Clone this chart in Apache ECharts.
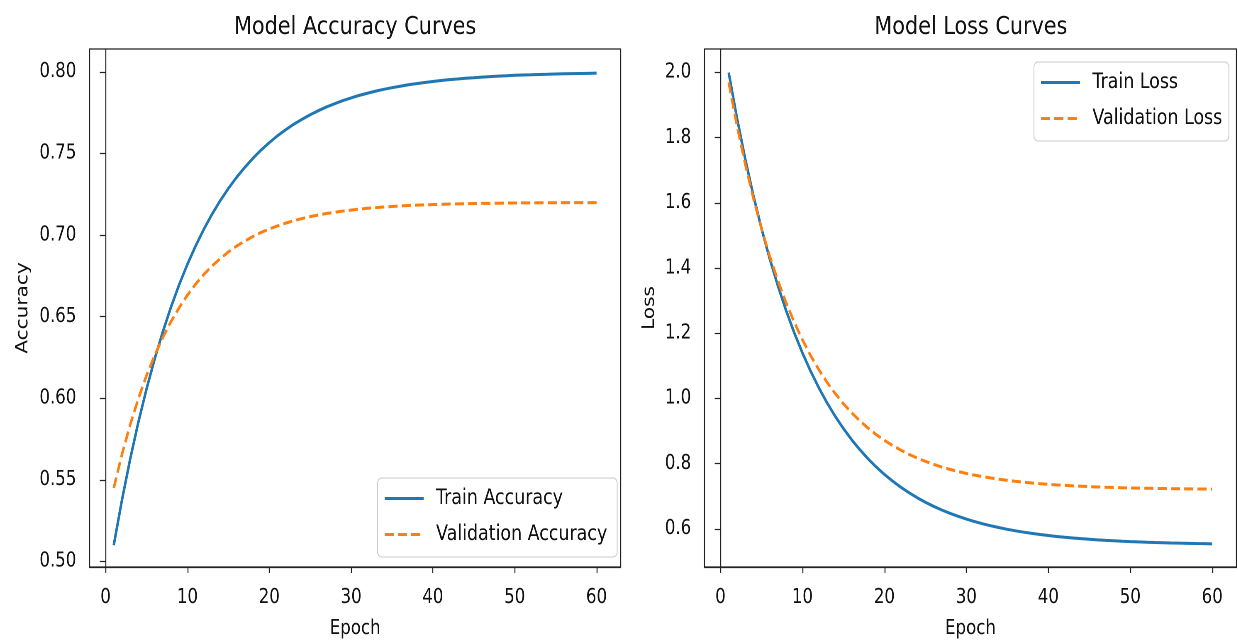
<!DOCTYPE html>
<html>
<head>
<meta charset="utf-8">
<script src="https://cdn.jsdelivr.net/npm/echarts@6/dist/echarts.min.js"></script>
<style>
  html, body { margin: 0; padding: 0; background: #fff; overflow: hidden; }
  /* the reference is squashed horizontally, so draw wider and squeeze */
  #chart { width: 1492px; height: 640px; transform: scaleX(0.8298); transform-origin: 0 0; }
</style>
</head>
<body>
<div id="chart"></div>
<script>
const epochs = [1, 2, 3, 4, 5, 6, 7, 8, 9, 10, 11, 12, 13, 14, 15, 16, 17, 18, 19, 20,
  21, 22, 23, 24, 25, 26, 27, 28, 29, 30, 31, 32, 33, 34, 35, 36, 37, 38, 39, 40,
  41, 42, 43, 44, 45, 46, 47, 48, 49, 50, 51, 52, 53, 54, 55, 56, 57, 58, 59, 60]

const trainAcc = [0.5100, 0.5376, 0.5626, 0.5852, 0.6056, 0.6241, 0.6408, 0.6560, 0.6697, 0.6821,
  0.6933, 0.7035, 0.7127, 0.7210, 0.7285, 0.7353, 0.7414, 0.7470, 0.7521, 0.7566,
  0.7608, 0.7645, 0.7679, 0.7709, 0.7737, 0.7762, 0.7785, 0.7805, 0.7824, 0.7840,
  0.7856, 0.7869, 0.7882, 0.7893, 0.7903, 0.7912, 0.7921, 0.7928, 0.7935, 0.7941,
  0.7947, 0.7952, 0.7956, 0.7961, 0.7964, 0.7968, 0.7971, 0.7974, 0.7976, 0.7979,
  0.7981, 0.7982, 0.7984, 0.7985, 0.7987, 0.7988, 0.7989, 0.7990, 0.7991, 0.7992]

const valAcc = [0.5450, 0.5656, 0.5837, 0.5997, 0.6139, 0.6263, 0.6373, 0.6470, 0.6556, 0.6632,
  0.6699, 0.6758, 0.6810, 0.6855, 0.6896, 0.6932, 0.6963, 0.6991, 0.7016, 0.7037,
  0.7056, 0.7073, 0.7088, 0.7101, 0.7113, 0.7123, 0.7132, 0.7140, 0.7147, 0.7153,
  0.7159, 0.7164, 0.7168, 0.7172, 0.7175, 0.7178, 0.7181, 0.7183, 0.7185, 0.7187,
  0.7188, 0.7190, 0.7191, 0.7192, 0.7193, 0.7194, 0.7194, 0.7195, 0.7196, 0.7196,
  0.7197, 0.7197, 0.7198, 0.7198, 0.7198, 0.7199, 0.7199, 0.7199, 0.7199, 0.7199]

const trainLoss = [2.0000, 1.8620, 1.7371, 1.6242, 1.5219, 1.4294, 1.3458, 1.2701, 1.2015, 1.1396,
  1.0834, 1.0327, 0.9867, 0.9451, 0.9076, 0.8735, 0.8428, 0.8149, 0.7897, 0.7669,
  0.7462, 0.7276, 0.7107, 0.6954, 0.6815, 0.6690, 0.6577, 0.6474, 0.6382, 0.6298,
  0.6222, 0.6153, 0.6092, 0.6035, 0.5984, 0.5938, 0.5896, 0.5858, 0.5825, 0.5793,
  0.5765, 0.5741, 0.5718, 0.5697, 0.5678, 0.5661, 0.5646, 0.5632, 0.5619, 0.5607,
  0.5597, 0.5588, 0.5580, 0.5573, 0.5565, 0.5559, 0.5554, 0.5548, 0.5544, 0.5539]

const valLoss = [1.9700, 1.8385, 1.7209, 1.6156, 1.5215, 1.4373, 1.3618, 1.2943, 1.2339, 1.1799,
  1.1315, 1.0883, 1.0495, 1.0149, 0.9839, 0.9561, 0.9313, 0.9090, 0.8891, 0.8714,
  0.8555, 0.8413, 0.8285, 0.8170, 0.8069, 0.7978, 0.7895, 0.7823, 0.7758, 0.7699,
  0.7646, 0.7599, 0.7558, 0.7520, 0.7486, 0.7456, 0.7429, 0.7405, 0.7384, 0.7364,
  0.7346, 0.7331, 0.7318, 0.7305, 0.7294, 0.7284, 0.7275, 0.7268, 0.7260, 0.7254,
  0.7249, 0.7244, 0.7239, 0.7235, 0.7231, 0.7228, 0.7225, 0.7223, 0.7220, 0.7218]

const epochTicks = [0, 10, 20, 30, 40, 50, 60]
const accTicks = [0.50, 0.55, 0.60, 0.65, 0.70, 0.75, 0.80]
const lossTicks = [0.6, 0.8, 1.0, 1.2, 1.4, 1.6, 1.8, 2.0]

const FONT = 'DejaVu Sans'
const INK = '#111'
const BLUE = '#1f77b4'
const ORANGE = '#ff7f0e'

const pairs = ys => epochs.map((e, i) => [e, ys[i]])

function xAxis(gi) {
  return {
    type: 'value', gridIndex: gi, min: -1.95, max: 62.95,
    axisLine: { show: true, lineStyle: { color: '#222', width: 1.2 } },
    axisTick: { show: true, length: 6, customValues: epochTicks, lineStyle: { color: '#222', width: 1.2 } },
    axisLabel: { customValues: epochTicks, color: INK, fontSize: 20, fontFamily: FONT, margin: 21 },
    splitLine: { show: false },
    name: 'Epoch', nameLocation: 'middle', nameGap: 52,
    nameTextStyle: { color: INK, fontSize: 20, fontFamily: FONT }
  }
}

function yAxis(gi, min, max, ticks, digits, name, gap) {
  return {
    type: 'value', gridIndex: gi, min: min, max: max,
    axisLine: { show: true, lineStyle: { color: '#222', width: 1.2 } },
    axisTick: { show: true, length: 7, customValues: ticks, lineStyle: { color: '#222', width: 1.2 } },
    axisLabel: { customValues: ticks, color: INK, fontSize: 20, fontFamily: FONT, margin: 16,
      formatter: v => v.toFixed(digits) },
    splitLine: { show: false },
    name: name, nameLocation: 'middle', nameGap: gap,
    nameTextStyle: { color: INK, fontSize: 20, fontFamily: FONT }
  }
}

function legend(names, left, top, padRight) {
  return {
    data: names, orient: 'vertical', left: left, top: top,
    itemWidth: 47, itemHeight: 14, itemGap: 15,
    padding: [10, padRight, 12, 7],
    backgroundColor: 'rgba(255,255,255,0.8)', borderColor: '#cccccc', borderWidth: 1, borderRadius: 5,
    selectedMode: false,
    itemStyle: { opacity: 0 },
    lineStyle: { width: 3 },
    textStyle: { color: INK, fontSize: 21, fontFamily: FONT, padding: [0, 0, 0, 10] }
  }
}

function line(name, ys, gi, color, dashed) {
  return {
    name: name, type: 'line', xAxisIndex: gi, yAxisIndex: gi,
    data: pairs(ys), symbol: 'none', showSymbol: false, smooth: false,
    lineStyle: { color: color, width: 3, type: dashed ? [11, 5] : 'solid' },
    itemStyle: { color: color }
  }
}

const chart = echarts.init(document.getElementById('chart'), null, { devicePixelRatio: 2 })
chart.setOption({
  animation: false,
  backgroundColor: '#fff',
  title: [
    { text: 'Model Accuracy Curves', left: 428, top: 15, textAlign: 'center', padding: 0,
      textStyle: { color: INK, fontSize: 25, fontWeight: 'normal', fontFamily: FONT } },
    { text: 'Model Loss Curves', left: 1170, top: 15, textAlign: 'center', padding: 0,
      textStyle: { color: INK, fontSize: 25, fontWeight: 'normal', fontFamily: FONT } }
  ],
  grid: [
    { left: 108, top: 49, width: 640, height: 518, show: true, borderColor: '#222', borderWidth: 1.2,
      backgroundColor: 'transparent', outerBoundsMode: 'none' },
    { left: 849, top: 49, width: 641, height: 518, show: true, borderColor: '#222', borderWidth: 1.2,
      backgroundColor: 'transparent', outerBoundsMode: 'none' }
  ],
  xAxis: [xAxis(0), xAxis(1)],
  yAxis: [
    yAxis(0, 0.4966, 0.8140, accTicks, 2, 'Accuracy', 70),
    yAxis(1, 0.48275, 2.07225, lossTicks, 1, 'Loss', 56)
  ],
  legend: [
    legend(['Train Accuracy', 'Validation Accuracy'], 455, 478, 12),
    legend(['Train Loss', 'Validation Loss'], 1246, 62, 8)
  ],
  series: [
    line('Train Accuracy', trainAcc, 0, BLUE, false),
    line('Validation Accuracy', valAcc, 0, ORANGE, true),
    line('Train Loss', trainLoss, 1, BLUE, false),
    line('Validation Loss', valLoss, 1, ORANGE, true)
  ]
})
</script>
</body>
</html>
